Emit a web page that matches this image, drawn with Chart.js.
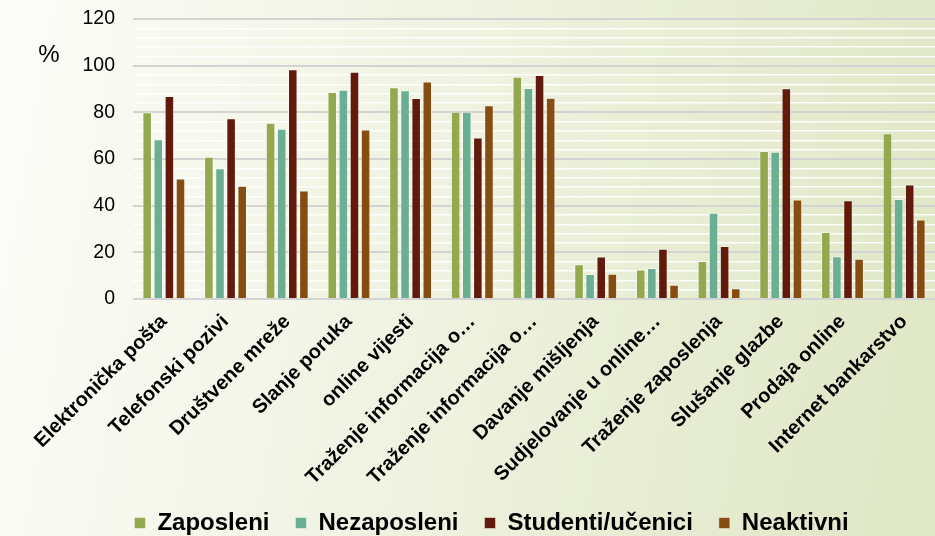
<!DOCTYPE html>
<html lang="hr">
<head>
<meta charset="utf-8">
<title>Korištenje interneta</title>
<script src="https://cdn.jsdelivr.net/npm/chart.js@4.4.1/dist/chart.umd.min.js"></script>
<style>
  html, body { margin: 0; padding: 0; }
  body {
    width: 935px;
    height: 536px;
    overflow: hidden;
    background: linear-gradient(100deg, #fcfdf9 0%, #f1f4e4 40%, #e6ecd1 75%, #dfe7c5 100%);
    font-family: "Liberation Sans", Arial, sans-serif;
  }
  .chart-box { position: relative; width: 935px; height: 536px; }
</style>
</head>
<body>
<div class="chart-box"><canvas id="chartInternet"></canvas></div>
<script>
const kategorije = [
  "Elektronička pošta",
  "Telefonski pozivi",
  "Društvene mreže",
  "Slanje poruka",
  "online vijesti",
  "Traženje informacija o…",
  "Traženje informacija o…",
  "Davanje mišljenja",
  "Sudjelovanje u online…",
  "Traženje zaposlenja",
  "Slušanje glazbe",
  "Prodaja online",
  "Internet bankarstvo",
];

const zaposleni = [80, 61, 75.5, 88.7, 90.7, 80.2, 95.3, 14.9, 12.6, 16.3, 63.4, 28.7, 71];
const nezaposleni = [68.5, 56, 73, 89.7, 89.5, 80.2, 90.4, 10.7, 13.3, 37, 63.1, 18.3, 42.9];
const studenti = [87, 77.5, 98.5, 97.4, 86.1, 69.2, 96, 18.2, 21.5, 22.7, 90.3, 42.3, 49.1];
const neaktivni = [51.6, 48.5, 46.5, 72.6, 93.2, 83, 86.2, 10.8, 6.1, 4.6, 42.6, 17.2, 34.1];

const yMin = 0;
const yMax = 120;
const yKorak = 4;      // white minor lines
const yOznake = 20;    // labelled gray lines

const FONT = '"Liberation Sans", Arial, sans-serif';

Chart.defaults.font.family = FONT;
Chart.defaults.color = "#000000";

// "%" sits left of the axis, above the 80 label
const postotakPlugin = {
  id: "postotak",
  afterDraw(chart) {
    const ctx = chart.ctx;
    ctx.save();
    ctx.font = "24px " + FONT;
    ctx.fillStyle = "#000000";
    ctx.textAlign = "center";
    ctx.textBaseline = "middle";
    ctx.fillText("%", 49, 55);
    ctx.restore();
  },
};

function serija(label, data, boja) {
  return {
    label,
    data,
    backgroundColor: boja,
    borderColor: "rgba(255, 255, 255, 0.45)",
    borderWidth: 1,
    categoryPercentage: 0.72,
    barPercentage: 0.86,
  };
}

const canvas = document.getElementById("chartInternet");
canvas._chart = new Chart(canvas, {
  type: "bar",
  data: {
    labels: kategorije,
    datasets: [
      serija("Zaposleni", zaposleni, "#93a84f"),
      serija("Nezaposleni", nezaposleni, "#6aae94"),
      serija("Studenti/učenici", studenti, "#611a0b"),
      serija("Neaktivni", neaktivni, "#864c11"),
    ],
  },
  options: {
    responsive: true,
    maintainAspectRatio: false,
    animation: false,
    // left padding pushes the centred legend a bit to the right, like the original
    layout: { padding: { top: 19, right: 0, bottom: -9, left: 48 } },
    scales: {
      x: {
        grid: { display: false },
        border: { display: false },
        ticks: {
          autoSkip: false,
          maxRotation: 45,
          minRotation: 45,
          padding: 3,
          font: { size: 20, weight: "bold" },
        },
        afterFit: (scale) => { scale.height = 186; },
      },
      y: {
        min: yMin,
        max: yMax,
        border: { display: false },
        grid: {
          drawTicks: true,
          tickLength: 15,
          tickColor: "rgba(0, 0, 0, 0)",
          color: (c) => (c.tick.value % yOznake === 0 ? "#d3d3d3" : "rgba(255, 255, 255, 0.9)"),
          lineWidth: (c) => (c.tick.value % yOznake === 0 ? 2 : 1.5),
        },
        ticks: {
          stepSize: yKorak,
          autoSkip: false,
          padding: 3,
          font: { size: 19.5 },
          callback: (v) => (v % yOznake === 0 ? v : ""),
        },
        afterFit: (scale) => { scale.width = 85; },
      },
    },
    plugins: {
      legend: {
        position: "bottom",
        labels: {
          boxWidth: 11,
          boxHeight: 11,
          padding: 26,
          font: { size: 24, weight: "bold" },
          color: "#000000",
        },
      },
      tooltip: {
        callbacks: {
          label: (ctx) => `${ctx.dataset.label} : ${ctx.parsed.y} %`,
        },
      },
    },
  },
  plugins: [postotakPlugin],
});
</script>
</body>
</html>
